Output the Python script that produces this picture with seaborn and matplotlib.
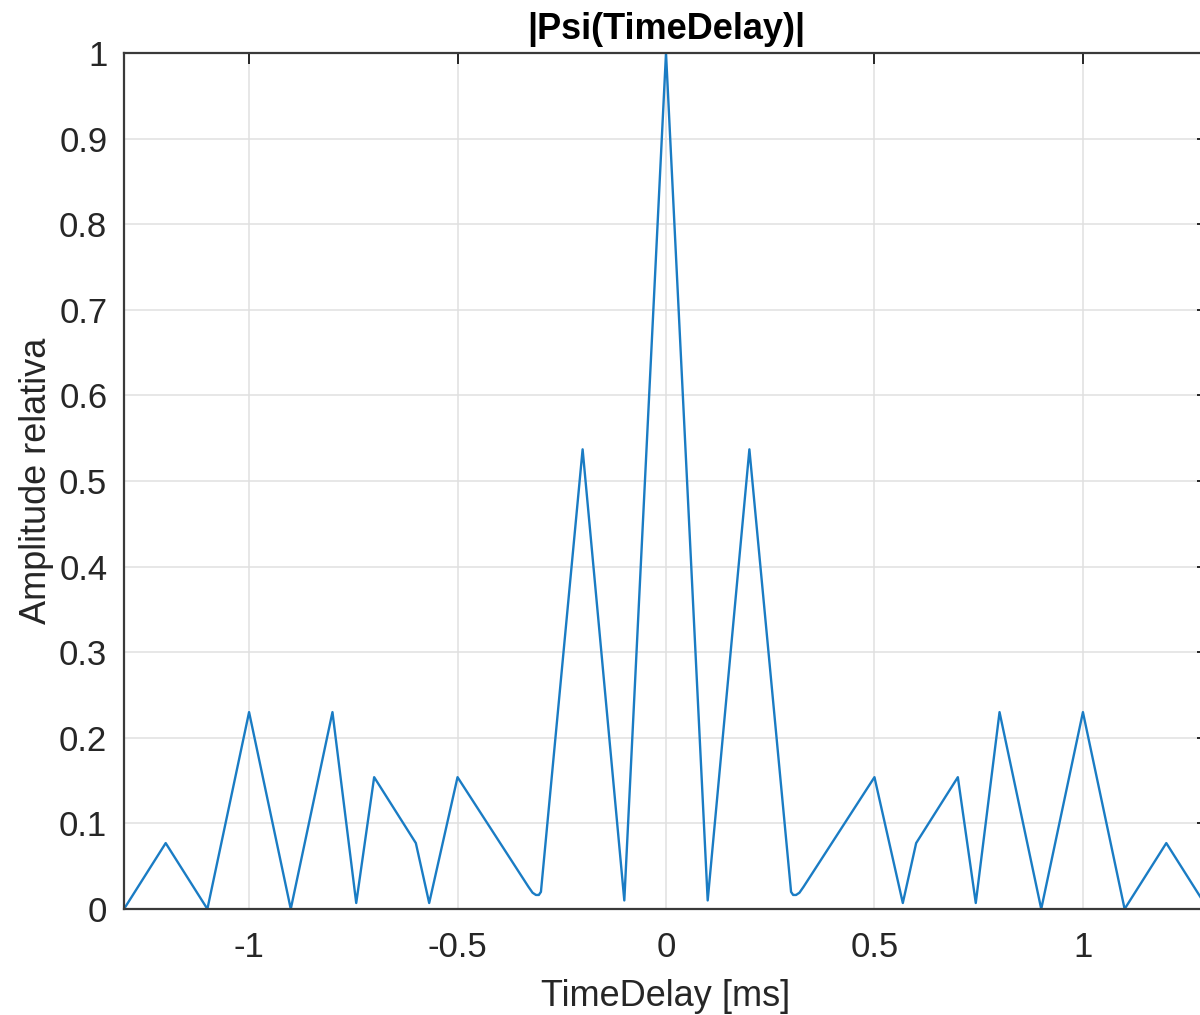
import numpy as np
import pandas as pd
import matplotlib
matplotlib.use("Agg")
import matplotlib.pyplot as plt
import seaborn as sns

# |Psi(TimeDelay)| sampled at its breakpoints
time_delay = [-1.3, -1.2, -1.1, -1.0, -0.9, -0.8, -0.743, -0.7, -0.6, -0.568,
              -0.5, -0.33, -0.32, -0.312, -0.305, -0.3, -0.2, -0.1, 0.0,
              0.1, 0.2, 0.3, 0.305, 0.312, 0.32, 0.33, 0.5, 0.568, 0.6,
              0.7, 0.743, 0.8, 0.9, 1.0, 1.1, 1.2, 1.3]
amplitude = [0.0, 0.077, 0.0, 0.23, 0.0, 0.23, 0.007, 0.154, 0.077, 0.007,
             0.154, 0.026, 0.019, 0.0164, 0.0164, 0.02, 0.537, 0.01, 1.0,
             0.01, 0.537, 0.02, 0.0164, 0.0164, 0.019, 0.026, 0.154, 0.007, 0.077,
             0.154, 0.007, 0.23, 0.0, 0.23, 0.0, 0.077, 0.0]

x_ticks = [-1, -0.5, 0, 0.5, 1]
x_tick_labels = ["-1", "-0.5", "0", "0.5", "1"]
y_ticks = [0, 0.1, 0.2, 0.3, 0.4, 0.5, 0.6, 0.7, 0.8, 0.9, 1.0]
y_tick_labels = ["0", "0.1", "0.2", "0.3", "0.4", "0.5", "0.6", "0.7", "0.8", "0.9", "1"]

df = pd.DataFrame({"TimeDelay": time_delay, "Amplitude": amplitude})

sns.set_style("white")
plt.rcParams["font.family"] = ["Liberation Sans", "DejaVu Sans"]

W, H = 1200, 1015
fig = plt.figure(figsize=(W / 100, H / 100), dpi=100)
left, right_px, top, bottom = 124, 1208, 53, 909
ax = fig.add_axes([left / W, 1 - bottom / H, (right_px - left) / W, (bottom - top) / H])

axis_color = "#262626"
sns.lineplot(data=df, x="TimeDelay", y="Amplitude", ax=ax, sort=False,
             estimator=None, color="#1a7cc4", linewidth=1.7)

ax.set_xlim(-1.3, 1.3)
ax.set_ylim(0, 1)
ax.set_xticks(x_ticks)
ax.set_xticklabels(x_tick_labels)
ax.set_yticks(y_ticks)
ax.set_yticklabels(y_tick_labels)

ax.grid(True, color="#e0e0e0", linewidth=1.1)
ax.set_axisbelow(True)
for s in ax.spines.values():
    s.set_color("#3a3a3a")
    s.set_linewidth(1.6)
    s.set_visible(True)

ax.tick_params(axis="both", direction="in", length=8, width=1.4, color=axis_color,
               labelcolor=axis_color, labelsize=25, top=True, right=True)
ax.tick_params(axis="x", pad=16)
ax.tick_params(axis="y", pad=12)

ax.set_xlabel("TimeDelay [ms]", fontsize=26, color=axis_color, labelpad=11)
ax.set_ylabel("Amplitude relativa", fontsize=26, color=axis_color, labelpad=4)
ax.set_title("|Psi(TimeDelay)|", fontsize=26, fontweight="bold", color="black", pad=10)

fig.savefig("out.png", dpi=100)
